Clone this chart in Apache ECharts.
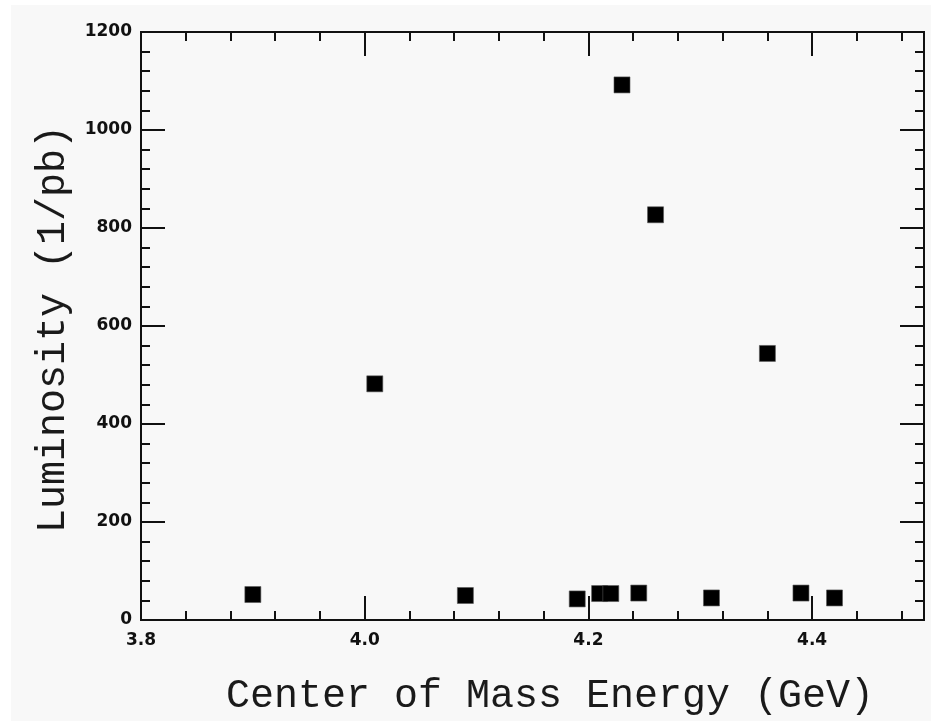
<!DOCTYPE html>
<html>
<head>
<meta charset="utf-8">
<script src="https://cdn.jsdelivr.net/npm/echarts@6/dist/echarts.min.js"></script>
<style>
  html, body { margin: 0; padding: 0; background: #ffffff; }
  #bg { position: absolute; left: 11px; top: 5px; width: 920px; height: 716px; background: #f8f8f8; }
  #chart { position: absolute; left: 0; top: 0; width: 931px; height: 721px; }
</style>
</head>
<body>
<div id="bg"></div>
<div id="chart"></div>
<script>
// Data
const energyGeV = [3.900, 4.009, 4.090, 4.190, 4.210, 4.220, 4.230, 4.245, 4.260, 4.310, 4.360, 4.390, 4.420];
const luminosity = [52, 482, 50, 43, 54, 54, 1092, 55, 827, 45, 544, 55, 45];

const xTitle = 'Center of Mass Energy (GeV)';
const yTitle = 'Luminosity (1/pb)';

const ink = '#111111';
const tickLabelStyle = { color: ink, fontFamily: 'DejaVu Sans', fontWeight: 'bold', fontSize: 17 };
const titleStyle = { color: '#1a1a1a', fontFamily: 'Liberation Mono', fontSize: 40 };

function xAx(position, interval, tickLen, withLabel) {
  const ax = {
    type: 'value', position: position, min: 3.8, max: 4.5, interval: interval,
    axisLine: { show: true, onZero: false, lineStyle: { color: ink, width: 2 } },
    axisTick: { show: true, inside: true, length: tickLen, lineStyle: { color: ink, width: 2 } },
    axisLabel: { show: false },
    splitLine: { show: false }
  };
  if (withLabel) {
    ax.axisLabel = Object.assign({ show: true, margin: 12, showMaxLabel: false,
      formatter: v => v.toFixed(1) }, tickLabelStyle);
    ax.name = xTitle;
    ax.nameLocation = 'middle';
    ax.nameGap = 56;
    ax.nameTextStyle = Object.assign({ padding: [0, 0, 0, 35] }, titleStyle);
  }
  return ax;
}

function yAx(position, withLabel) {
  const ax = {
    type: 'value', position: position, min: 0, max: 1200, interval: 200,
    axisLine: { show: true, onZero: false, lineStyle: { color: ink, width: 2 } },
    axisTick: { show: true, inside: true, length: 24, lineStyle: { color: ink, width: 2 } },
    minorTick: { show: true, splitNumber: 5, length: 9, lineStyle: { color: ink, width: 2 } },
    axisLabel: { show: false },
    splitLine: { show: false }, minorSplitLine: { show: false }
  };
  if (withLabel) {
    ax.axisLabel = Object.assign({ show: true, margin: 9, formatter: v => String(v) }, tickLabelStyle);
    ax.name = yTitle;
    ax.nameLocation = 'middle';
    ax.nameRotate = 90;
    ax.nameGap = 60;
    ax.nameTextStyle = Object.assign({ padding: [0, 6, 0, 0] }, titleStyle);
  }
  return ax;
}

const chart = echarts.init(document.getElementById('chart'), null, { renderer: 'canvas' });
chart.setOption({
  animation: false,
  backgroundColor: 'transparent',
  grid: { left: 141, right: 7, top: 32, bottom: 99, containLabel: false },
  xAxis: [
    xAx('bottom', 0.2, 24, true),
    xAx('bottom', 0.04, 9, false),
    xAx('top', 0.2, 24, false),
    xAx('top', 0.04, 9, false)
  ],
  yAxis: [
    yAx('left', true),
    yAx('right', false)
  ],
  series: [{
    type: 'scatter',
    xAxisIndex: 0,
    yAxisIndex: 0,
    symbol: 'rect',
    symbolSize: 16,
    itemStyle: { color: '#000000', borderColor: '#555555', borderWidth: 0.6, opacity: 1 },
    data: energyGeV.map((e, i) => [e, luminosity[i]])
  }]
});
</script>
</body>
</html>
